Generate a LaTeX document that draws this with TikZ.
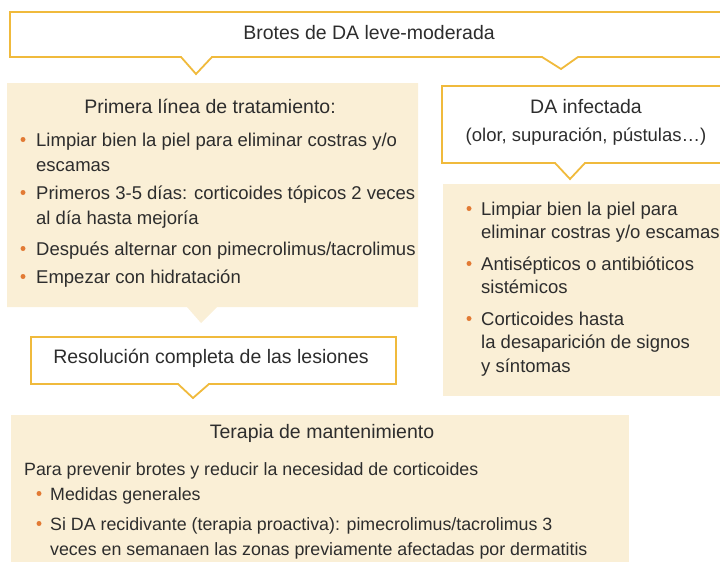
\documentclass[tikz,border=0pt]{standalone}
\usepackage{fontspec}
\setmainfont{Liberation Sans}
\definecolor{bord}{RGB}{240,186,60}
\definecolor{cream}{RGB}{250,239,214}
\definecolor{bulc}{RGB}{226,122,52}
\definecolor{txt}{RGB}{45,45,45}
\tikzset{
  callout/.style={draw=bord, line width=1.8pt, fill=white, line join=miter},
  panel/.style={fill=cream, draw=none},
  ttl/.style={anchor=base, inner sep=0pt, text=txt, font=\fontsize{19.5}{25}\selectfont},
  body/.style={anchor=base west, inner sep=0pt, text=txt, align=left, font=\fontsize{18.5}{25.5}\selectfont},
  bodyr/.style={body, font=\fontsize{18.5}{23.8}\selectfont},
  bodyt/.style={body, font=\fontsize{17.8}{25}\selectfont},
  bdot/.style={fill=bulc},
}
\begin{document}
\begin{tikzpicture}[x=1pt,y=-1pt]
\useasboundingbox (0,0) rectangle (720,562);
\clip (0,0) rectangle (720,562);
% shapes
\draw[callout] (10,12) -- (735,12) -- (735,57) -- (578,57) -- (561,69) -- (542,57)
  -- (212,57) -- (196,74) -- (181,57) -- (10,57) -- cycle;
\fill[panel] (7,83) -- (418,83) -- (418,307) -- (217,307) -- (201,323) -- (187,307) -- (7,307) -- cycle;
\draw[callout] (442,86) -- (735,86) -- (735,163) -- (585,163) -- (570,179) -- (555,163) -- (442,163) -- cycle;
\fill[panel] (443,184) rectangle (735,396);
\draw[callout] (31,337) -- (396,337) -- (396,384) -- (209,384) -- (193,398) -- (178,384) -- (31,384) -- cycle;
\fill[panel] (11,415) rectangle (629,570);
% titles
\node[ttl] (brotes) at (369,39) {Brotes de DA leve-moderada};
\node[ttl] (prim) at (210,113) {Primera línea de tratamiento:};
\node[ttl] (inf) at (586,113) {DA infectada};
\node[ttl, font=\fontsize{18.5}{25}\selectfont] (infs) at (586,141) {(olor, supuración, pústulas\ldots)};
\node[ttl] (res) at (211,363) {Resolución completa de las lesiones};
\node[ttl] (ter) at (322,438) {Terapia de mantenimiento};
% left bullets (node placed at baseline of its last line)
\fill[bdot] (23,139.5) circle (2.5);
\node[body] (p1) at (36,171.5) {Limpiar bien la piel para eliminar costras y/o\\escamas};
\fill[bdot] (23,192.5) circle (2.5);
\node[body] (p2) at (36,224.5) {Primeros 3-5 días: corticoides tópicos 2 veces\\al día hasta mejoría};
\fill[bdot] (23,248.5) circle (2.5);
\node[body] (p3) at (36,255) {Después alternar con pimecrolimus/tacrolimus};
\fill[bdot] (23,276.5) circle (2.5);
\node[body] (p4) at (36,283) {Empezar con hidratación};
% right bullets
\fill[bdot] (469,208.5) circle (2.5);
\node[bodyr] (i1) at (481,238.8) {Limpiar bien la piel para\\eliminar costras y/o escamas};
\fill[bdot] (469,263.5) circle (2.5);
\node[bodyr] (i2) at (481,293.8) {Antisépticos o antibióticos\\sistémicos};
\fill[bdot] (469,318.5) circle (2.5);
\node[bodyr] (i3) at (481,372.6) {Corticoides hasta\\la desaparición de signos\\y síntomas};
% maintenance
\node[bodyt] (t0) at (24,475) {Para prevenir brotes y reducir la necesidad de corticoides};
\fill[bdot] (39,493.5) circle (2.5);
\node[bodyt] (t1) at (50,500) {Medidas generales};
\fill[bdot] (39,523.5) circle (2.5);
\node[bodyt] (t2) at (50,555) {Si DA recidivante (terapia proactiva): pimecrolimus/tacrolimus 3\\veces en semanaen las zonas previamente afectadas por dermatitis};
\end{tikzpicture}
\end{document}
